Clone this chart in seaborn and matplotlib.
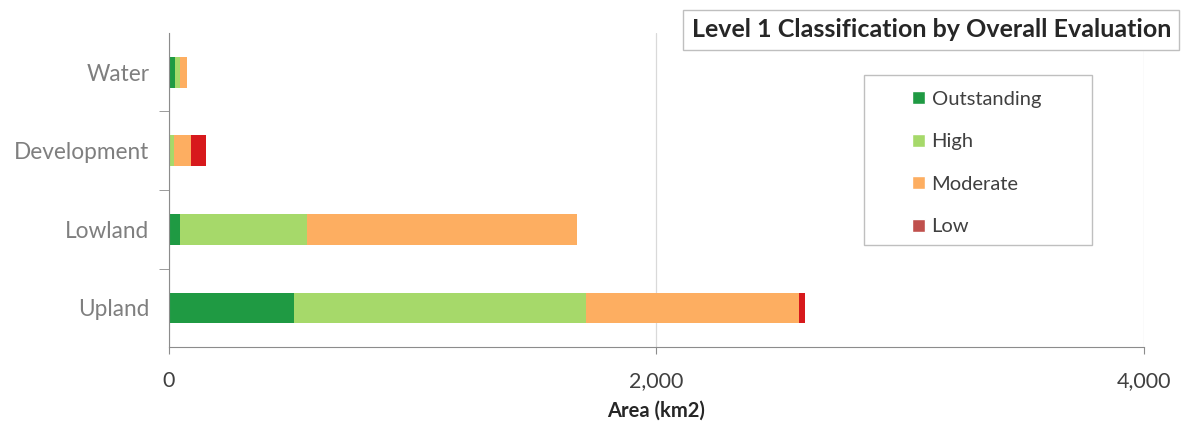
import pandas as pd
import matplotlib.pyplot as plt
import seaborn as sns
from matplotlib.patches import Patch, Rectangle
from matplotlib.ticker import FuncFormatter, MultipleLocator

# Chart values (area in km2)
land_types = ["Water", "Development", "Lowland", "Upland"]
outstanding = [25, 0, 45, 512]
high = [20, 22, 520, 1197]
moderate = [30, 70, 1107, 877]
low = [0, 61, 0, 25]

classes = ["Outstanding", "High", "Moderate", "Low"]
colors = {"Outstanding": "#1f9a43", "High": "#a6d96a",
          "Moderate": "#fdae61", "Low": "#d7191c"}
legend_colors = {"Outstanding": "#1f9a43", "High": "#a6d96a",
                 "Moderate": "#fdae61", "Low": "#c0504d"}

df = pd.DataFrame({"Land": land_types, "Outstanding": outstanding,
                   "High": high, "Moderate": moderate, "Low": low})

# cumulative totals for the stacked look
cum = df[classes].cumsum(axis=1)
cum["Land"] = df["Land"]

sns.set_style("white")
plt.rcParams['font.family'] = ['Lato', 'DejaVu Sans']

fig = plt.figure(figsize=(11.85, 4.28), dpi=100)
ax = fig.add_axes([0.1426, 0.189, 0.8228, 0.734])

# draw the longest stack first, shorter ones on top
for cls in reversed(classes):
    sns.barplot(data=cum, x=cls, y="Land", order=land_types, orient="h",
                color=colors[cls], width=0.39, saturation=1, ax=ax,
                edgecolor="none")

ax.set_xlim(0, 4000)
ax.set_ylim(3.5, -0.5)
ax.xaxis.set_major_locator(MultipleLocator(2000))
ax.xaxis.set_major_formatter(FuncFormatter(lambda v, p: f"{int(v):,}"))
ax.grid(axis="x", color="#d9d9d9", linewidth=0.9)
ax.set_axisbelow(True)

for s in ["top", "right"]:
    ax.spines[s].set_visible(False)
ax.spines["left"].set_color("#8c8c8c")
ax.spines["bottom"].set_color("#8c8c8c")

# category ticks sit between bars like Excel
ax.set_yticks([0, 1, 2, 3])
ax.set_yticklabels(land_types, fontsize=16.3, color="#7f7f7f")
ax.tick_params(axis="y", left=True, length=0, pad=14)
ax.set_yticks([0.5, 1.5, 2.5], minor=True)
ax.tick_params(axis="y", which="minor", left=True, length=7,
               color="#8c8c8c")
ax.tick_params(axis="x", bottom=True, length=5, color="#8c8c8c",
               labelsize=15.5, labelcolor="#404040", pad=12)

ax.set_xlabel("Area (km2)", fontsize=14.5, fontweight="bold", labelpad=7)
ax.set_ylabel("")

fig.text(0.786, 0.93, "Level 1 Classification by Overall Evaluation",
         ha="center", va="center", fontsize=18, fontweight="bold",
         bbox=dict(boxstyle="square,pad=0.33", facecolor="white",
                   edgecolor="#bfbfbf"))

# legend box drawn on its own, entries inside it
fig.patches.append(Rectangle((0.729, 0.4276), 0.1924, 0.397,
                             transform=fig.transFigure, fill=False,
                             edgecolor="#bfbfbf", linewidth=1.0))
handles = [Patch(facecolor=legend_colors[c], label=c) for c in classes]
leg = fig.legend(handles=handles, loc="center left",
                 bbox_to_anchor=(0.770, 0.619), frameon=False,
                 fontsize=14.5, handlelength=0.6, handleheight=0.6,
                 handletextpad=0.35, labelspacing=1.27, borderpad=0,
                 borderaxespad=0)
for t in leg.get_texts():
    t.set_color("#404040")

fig.savefig("out.png", dpi=100)
